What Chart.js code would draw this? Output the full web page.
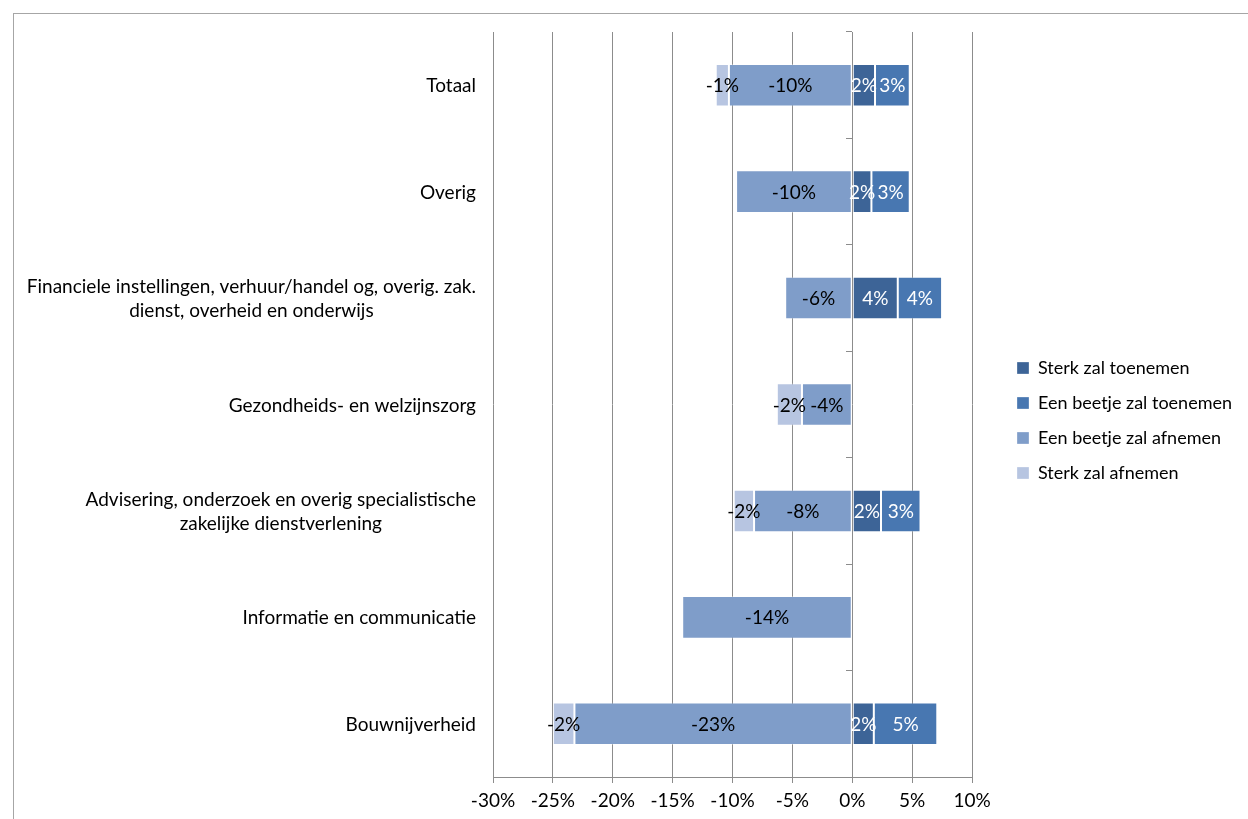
<!DOCTYPE html>
<html>
<head>
<meta charset="utf-8">
<script src="https://cdn.jsdelivr.net/npm/chart.js@4.4.0/dist/chart.umd.min.js"></script>
<style>
  body { margin: 0; background: #fff; }
  .frame { position: absolute; left: 13px; top: 13px; width: 1235px; height: 806px;
           border-left: 1px solid #a6a6a6; border-top: 1px solid #a6a6a6; }
  .frame canvas { display: block; }
</style>
</head>
<body>
<div class="frame"><canvas id="chart" width="1234" height="805"></canvas></div>
<script>
// categorieen (meerdere regels waar nodig)
const categories = [
  ["Totaal"],
  ["Overig"],
  ["Financiele instellingen, verhuur/handel og, overig. zak.", "dienst, overheid en onderwijs"],
  ["Gezondheids- en welzijnszorg"],
  ["Advisering, onderzoek en overig specialistische", "zakelijke dienstverlening"],
  ["Informatie en communicatie"],
  ["Bouwnijverheid"]
];
const seriesNames = ["Sterk zal toenemen", "Een beetje zal toenemen", "Een beetje zal afnemen", "Sterk zal afnemen"];
const sterkToenemen  = [1.9, 1.6, 3.8, null, 2.4, null, 1.8];
const beetjeToenemen = [2.9, 3.2, 3.7, null, 3.3, null, 5.3];
const beetjeAfnemen  = [-10.3, -9.7, -5.6, -4.2, -8.2, -14.2, -23.2];
const sterkAfnemen   = [-1.1, null, null, -2.1, -1.7, null, -1.8];
const xMin = -30, xMax = 10, xStep = 5;

const colors = ["#3d6497", "#4877b1", "#7f9dc9", "#b7c5e1"];
const gridColor = "#8c8c8c";
const FONT = "19px Lato";

Chart.defaults.font.family = "Lato";
Chart.defaults.font.size = 19;
Chart.defaults.color = "#000";

// waarden in de balken + categorie-labels links
const labelPlugin = {
  id: "barLabels",
  afterLayout(chart) {
    // legenda iets verder van het plotgebied en iets hoger
    const lg = chart.legend;
    const shift = chart.chartArea.right + 45 - (lg.left + lg.options.labels.padding);
    lg.left += shift;
    lg.right += shift;
    lg.top -= 5;
    lg.bottom -= 5;
  },
  afterDatasetsDraw(chart) {
    const ctx = chart.ctx;
    ctx.save();
    ctx.font = FONT;
    ctx.textAlign = "center";
    ctx.textBaseline = "middle";
    chart.data.datasets.forEach(function (ds, i) {
      const meta = chart.getDatasetMeta(i);
      meta.data.forEach(function (bar, j) {
        const v = ds.data[j];
        if (v == null) return;
        ctx.fillStyle = i < 2 ? "#fff" : "#000";
        ctx.fillText(Math.round(v) + "%", (bar.x + bar.base) / 2, bar.y + 1);
      });
    });

    const yScale = chart.scales.y;
    const rightEdge = yScale.right - 17;
    const lh = 24;
    ctx.fillStyle = "#000";
    categories.forEach(function (lines, k) {
      let w = 0;
      lines.forEach(function (l) { w = Math.max(w, ctx.measureText(l).width); });
      const cx = rightEdge - w / 2;
      const y0 = yScale.getPixelForValue(k) - (lines.length - 1) * lh / 2;
      lines.forEach(function (l, n) {
        ctx.fillText(l, cx, y0 + n * lh + 1);
      });
    });
    ctx.restore();
  }
};

const series = [sterkToenemen, beetjeToenemen, beetjeAfnemen, sterkAfnemen];

function draw() {
  new Chart(document.getElementById("chart").getContext("2d"), {
    type: "bar",
    data: {
      labels: categories.map(function (c) { return c.join(" "); }),
      datasets: series.map(function (d, i) {
        return {
          label: seriesNames[i],
          data: d,
          backgroundColor: colors[i],
          borderColor: "rgba(255,255,255,0.3)",
          borderWidth: 1,
          borderSkipped: false,
          categoryPercentage: 0.8,
          barPercentage: 0.5
        };
      })
    },
    options: {
      indexAxis: "y",
      responsive: false,
      animation: false,
      layout: { padding: { top: 18, right: 34, left: 0, bottom: 0 } },
      plugins: {
        tooltip: { enabled: false },
        legend: {
          position: "right",
          maxWidth: 500,
          labels: {
            boxWidth: 12,
            boxHeight: 12,
            padding: 17,
            font: { size: 18 },
            color: "#000"
          }
        }
      },
      scales: {
        x: {
          stacked: true,
          min: xMin,
          max: xMax,
          ticks: {
            stepSize: xStep,
            padding: 6,
            callback: function (v) { return v + "%"; }
          },
          grid: { color: gridColor, tickLength: 6 },
          border: { color: gridColor },
          afterFit: function (s) { s.height = 42; }
        },
        y: {
          stacked: true,
          grid: { display: false },
          border: { display: false },
          ticks: { display: false },
          afterFit: function (s) { s.width = 479; }
        },
        y2: {
          type: "category",
          axis: "y",
          position: { x: 0 },
          offset: true,
          grid: { drawOnChartArea: false, offset: true, tickLength: 6, color: gridColor },
          border: { display: false },
          ticks: { display: false }
        }
      }
    },
    plugins: [labelPlugin]
  });
}

document.fonts.load(FONT).then(draw, draw);
</script>
</body>
</html>
